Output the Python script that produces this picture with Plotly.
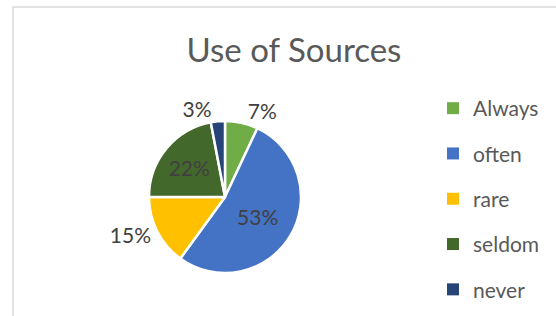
import plotly.graph_objects as go

W, H = 556, 316

categories = ["Always", "often", "rare", "seldom", "never"]
values = [7, 53, 15, 22, 3]
colors = ["#70AD47", "#4472C4", "#FFC000", "#43682B", "#264478"]
text_positions = ["outside", "inside", "outside", "inside", "outside"]
title_text = "Use of Sources"

FONT = "Lato"

# pie geometry (pixels)
cx, cy, r = 225, 197, 76

fig = go.Figure()
fig.add_trace(go.Pie(
    labels=categories,
    values=values,
    sort=False,
    direction="clockwise",
    rotation=0,
    marker=dict(colors=colors, line=dict(color="white", width=2.5)),
    textinfo="percent",
    textposition=text_positions,
    insidetextorientation="horizontal",
    textfont=dict(family=FONT, size=21, color="#404040"),
    showlegend=False,
    domain=dict(x=[(cx - r) / W, (cx + r) / W], y=[(H - cy - r) / H, (H - cy + r) / H]),
    hoverinfo="label+percent",
))

# legend entries (one per category) so the spacing between rows can be set
for i, (cat, col) in enumerate(zip(categories, colors)):
    fig.add_trace(go.Scatter(
        x=[None], y=[None], mode="markers", name=cat,
        marker=dict(symbol="square", size=8, color=col),
        legendgroup=f"g{i}", showlegend=True,
    ))

fig.update_layout(
    width=W, height=H,
    margin=dict(l=0, r=0, t=0, b=0, autoexpand=False),
    paper_bgcolor="white",
    plot_bgcolor="white",
    xaxis=dict(visible=False),
    yaxis=dict(visible=False),
    title=dict(text=title_text, x=294 / W, xanchor="center", y=1 - 50 / H, yanchor="middle",
               font=dict(family=FONT, size=33, color="#595959")),
    legend=dict(x=433 / W, xanchor="left", y=1 - 88 / H, yanchor="top",
                font=dict(family=FONT, size=21, color="#595959"),
                tracegroupgap=15, itemsizing="constant", bgcolor="rgba(0,0,0,0)"),
    shapes=[dict(type="rect", xref="paper", yref="paper",
                 x0=13 / W, x1=1.2, y0=-0.2, y1=1 - 7 / H,
                 line=dict(color="#D9D9D9", width=1.5), layer="below")],
)

fig.write_html("out.html", config={"displayModeBar": False},
               post_script="document.body.style.margin='0';")
